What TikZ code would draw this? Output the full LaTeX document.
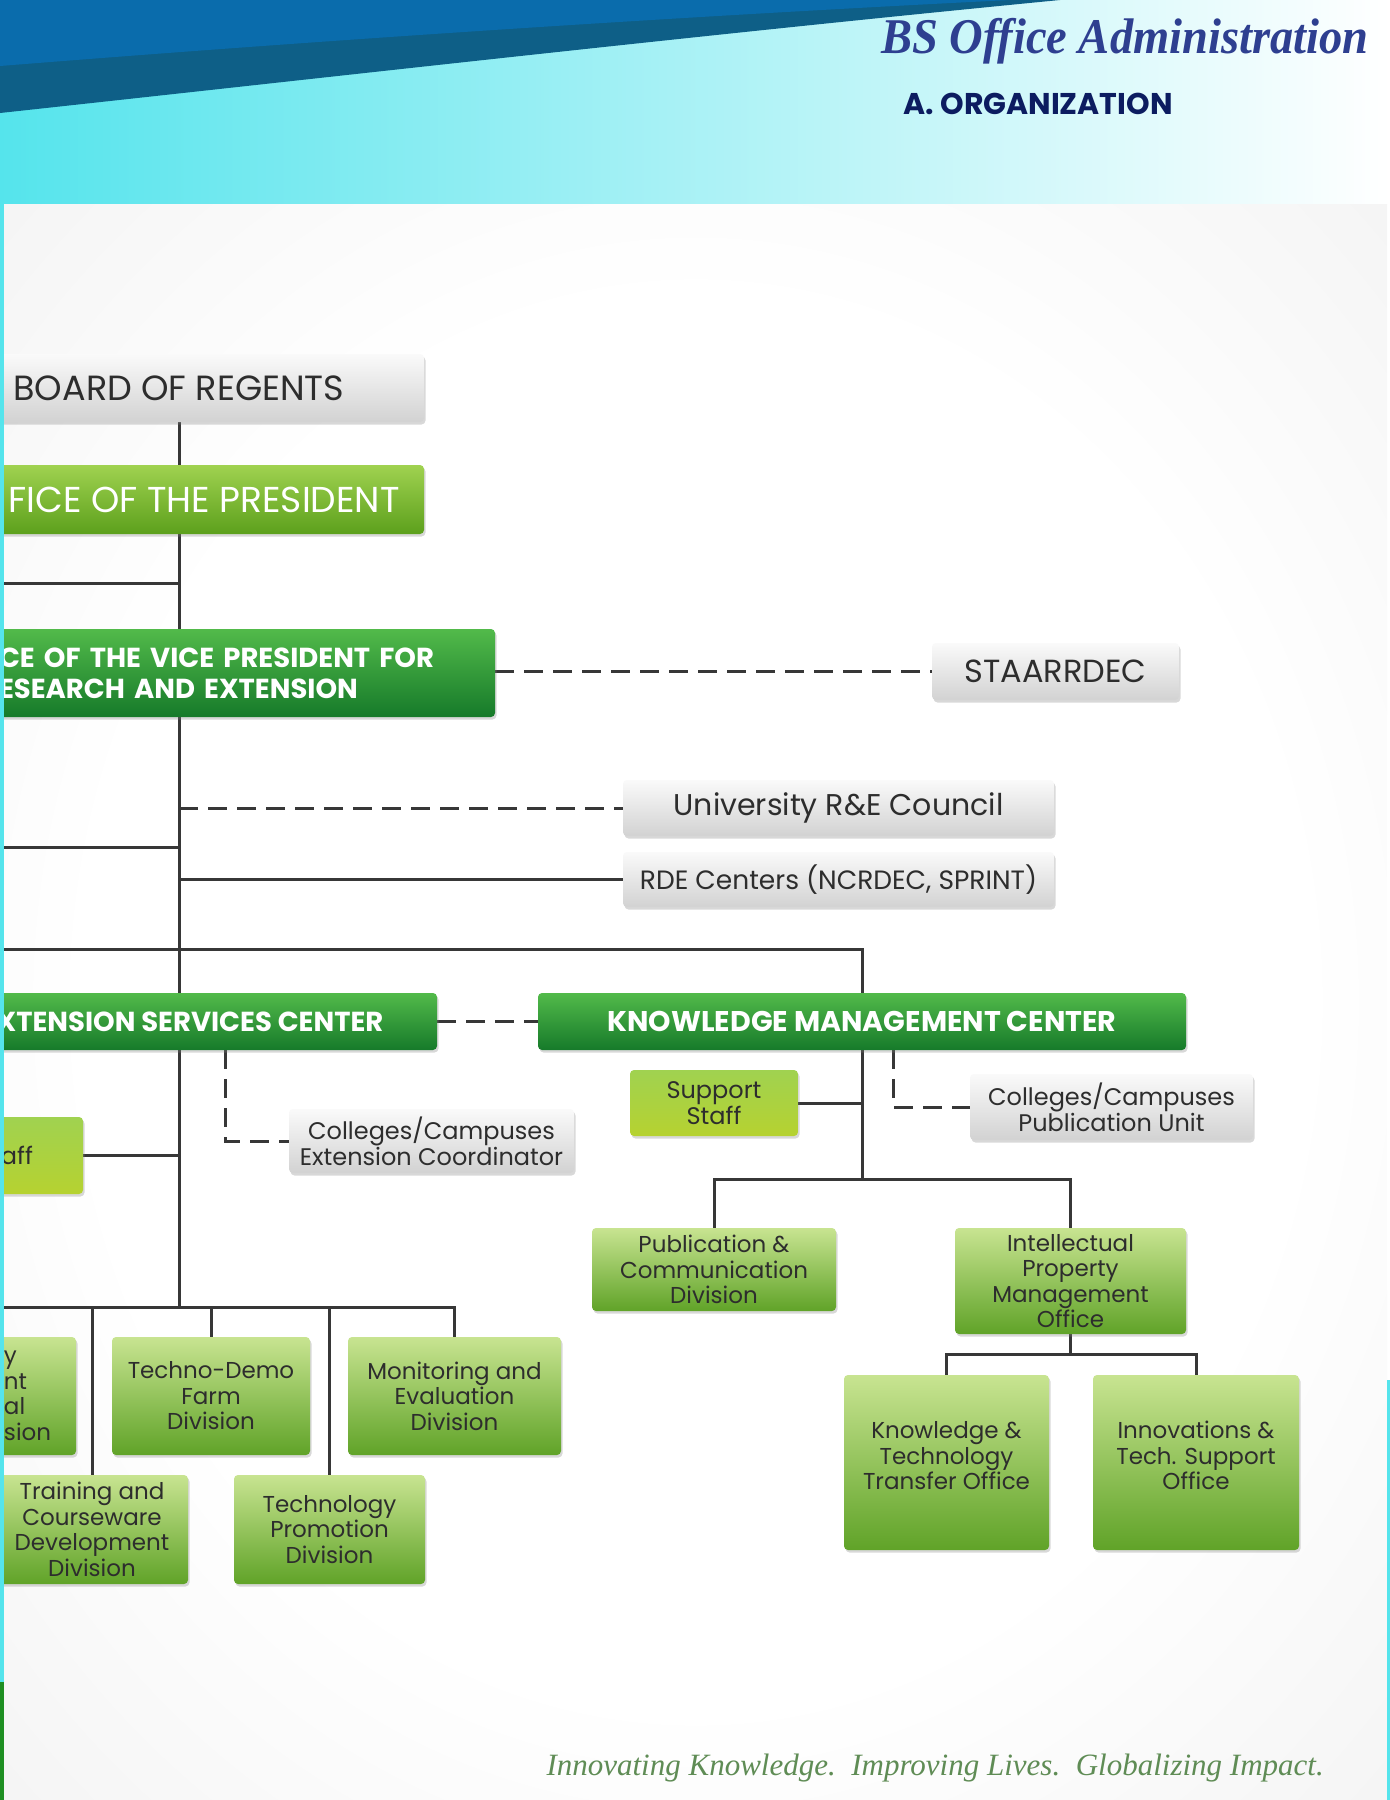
\documentclass[tikz,border=0pt]{standalone}
\usepackage{fontspec}
\usepackage{graphicx}
\setmainfont{Poppins}
\newfontfamily\serifscript{Liberation Serif}
\usetikzlibrary{shadows,backgrounds,calc}
\pgfdeclarelayer{paper}
\pgfsetlayers{paper,background,main}
\definecolor{linegray}{RGB}{55,55,55}
\definecolor{boxtop}{RGB}{250,250,250}
\definecolor{boxbottom}{RGB}{210,210,210}
\definecolor{limetop}{RGB}{200,228,145}
\definecolor{limebottom}{RGB}{96,163,40}
\definecolor{leaftop}{RGB}{160,210,80}
\definecolor{leafbottom}{RGB}{92,160,28}
\definecolor{pinetop}{RGB}{82,186,74}
\definecolor{pinebottom}{RGB}{22,122,42}
\definecolor{staffbottom}{RGB}{182,210,48}
\definecolor{navytitle}{RGB}{46,63,144}
\definecolor{navyhead}{RGB}{12,28,96}
\definecolor{mottogreen}{RGB}{95,140,85}
\definecolor{deepblue}{RGB}{14,95,135}
\definecolor{brightblue}{RGB}{10,108,172}
\definecolor{aqua}{RGB}{85,228,236}
\definecolor{aquamid}{RGB}{165,242,242}
\definecolor{textdark}{RGB}{45,45,45}
\definecolor{edgegreen}{RGB}{30,143,34}
\pgfdeclareradialshading{paperglow}{\pgfpoint{0bp}{0bp}}{color(0bp)=(white); color(22bp)=(white); color(42bp)=(black!6); color(50bp)=(black!7)}

\begin{document}
\begin{tikzpicture}[x=1pt, y=-1pt,
    box/.style={rectangle, rounded corners=4pt, inner sep=0pt, align=center, drop shadow={shadow xshift=1.5pt, shadow yshift=-2.5pt, opacity=0.3}},
    graybox/.style={box, top color=boxtop, bottom color=boxbottom, text=textdark},
    headbox/.style={box, top color=pinetop, bottom color=pinebottom, text=white, font=\fontsize{27.5}{31}\selectfont\bfseries},
    lightbox/.style={box, top color=leaftop, bottom color=leafbottom, text=white, font=\fontsize{36}{40}\selectfont},
    divbox/.style={box, top color=limetop, bottom color=limebottom, text=textdark, font=\fontsize{23}{25.5}\selectfont},
    staffbox/.style={box, top color=leaftop, bottom color=staffbottom, text=textdark, font=\fontsize{24}{26}\selectfont},
    link/.style={draw=linegray, line width=3pt},
    dashlink/.style={link, dash pattern=on 19pt off 10pt}
  ]
    \useasboundingbox (0,0) rectangle (1390,1800);

    % Slide background
    \begin{pgfonlayer}{paper}
      \shade[left color=aqua, middle color=aquamid, right color=white] (0,0) rectangle (1390,204);
      \fill[deepblue] (0,0) -- (1060,0) .. controls (700,35) and (350,75) .. (0,113) -- cycle;
      \fill[brightblue] (0,0) -- (1010,0) .. controls (650,18) and (300,42) .. (0,66) -- cycle;
      \shade[shading=paperglow] (4,204) rectangle (1387,1800);
    \end{pgfonlayer}

    % Headings
    \node[anchor=base east, text=navytitle, font=\serifscript\fontsize{50}{56}\selectfont\bfseries\itshape] (title) at (1372,53) {\scalebox{0.93}[1]{BS Office Administration}};
    \node[anchor=base west, text=navyhead, font=\fontsize{30}{34}\selectfont\bfseries] (section) at (900,114) {A. ORGANIZATION};

    % Top offices
    \node[graybox, minimum width=490, minimum height=68, font=\fontsize{35}{40}\selectfont] (bor) at (179,388) {BOARD OF REGENTS};
    \node[lightbox, minimum width=440, minimum height=69] (op) at (204,499.5) {FICE OF THE PRESIDENT};
    \node[headbox, align=left, text width=440, inner xsep=56, minimum height=88] (vp) at (219,673) {CE OF THE VICE PRESIDENT FOR\\ESEARCH AND EXTENSION};
    \node[graybox, minimum width=247, minimum height=57, font=\fontsize{32}{38}\selectfont] (staar) at (1055.5,671.5) {STAARRDEC};
    \node[graybox, minimum width=431, minimum height=56, font=\fontsize{30}{36}\selectfont] (council) at (838.5,808) {University R\&E Council};
    \node[graybox, minimum width=431, minimum height=55, font=\fontsize{26.5}{30}\selectfont] (rde) at (838.5,879.5) {RDE Centers (NCRDEC, SPRINT)};

    % Centers
    \node[headbox, minimum width=494, minimum height=57] (esc) at (190,1021.5) {XTENSION SERVICES CENTER};
    \node[headbox, minimum width=648, minimum height=57, font=\fontsize{28.5}{31}\selectfont\bfseries] (kmc) at (862,1021.5) {KNOWLEDGE MANAGEMENT CENTER};

    % Extension side
    \node[staffbox, minimum width=132, minimum height=77] (estaff) at (17,1155.5) {aff};
    \node[graybox, minimum width=285, minimum height=64, font=\fontsize{24}{26}\selectfont] (extco) at (431.5,1141) {Colleges/Campuses\\Extension Coordinator};
    \node[divbox, align=left, text width=60, inner xsep=12, minimum height=118] (edgediv) at (34,1396) {y\\nt\\al\\sion};
    \node[divbox, minimum width=198, minimum height=118] (demo) at (211,1396) {Techno-Demo\\Farm\\Division};
    \node[divbox, minimum width=213, minimum height=118] (monit) at (454.5,1396) {Monitoring and\\Evaluation\\Division};
    \node[divbox, minimum width=192, minimum height=109] (train) at (92,1529.5) {Training and\\Courseware\\Development\\Division};
    \node[divbox, minimum width=191, minimum height=109] (promo) at (329.5,1529.5) {Technology\\Promotion\\Division};

    % Knowledge side
    \node[staffbox, minimum width=168, minimum height=66] (kstaff) at (714,1103) {Support\\Staff};
    \node[graybox, minimum width=283, minimum height=66, font=\fontsize{24}{26}\selectfont] (pubunit) at (1111.5,1107) {Colleges/Campuses\\Publication Unit};
    \node[divbox, minimum width=244, minimum height=83] (pubcom) at (714,1269.5) {Publication \&\\Communication\\Division};
    \node[divbox, minimum width=231, minimum height=106] (ipmo) at (1070.5,1281) {Intellectual\\Property\\Management\\Office};
    \node[divbox, minimum width=205, minimum height=175, text depth=14pt] (ktto) at (946.5,1462.5) {Knowledge \&\\Technology\\Transfer Office};
    \node[divbox, minimum width=206, minimum height=175, text depth=14pt] (itso) at (1196,1462.5) {Innovations \&\\Tech. Support\\Office};

    % Motto
    \node[anchor=base west, text=mottogreen, font=\serifscript\fontsize{31}{36}\selectfont\itshape] (motto) at (543,1775) {Innovating Knowledge.\ \ Improving Lives.\ \ Globalizing Impact.};

    % Branch points
    \coordinate (presbar) at (4,583);
    \coordinate (councilbar) at (4,847);
    \coordinate (kmcfeed) at (4,949);
    \coordinate (divbar) at (4,1307);
    \coordinate (kmcbar) at (0,1179);
    \coordinate (ipbar) at (0,1354);

    % Connections
    \begin{scope}[on background layer]
      \draw[link] (bor.south) -- (bor.south |- divbar);
      \draw[link] (presbar) -- (presbar -| bor.south);
      \draw[link] (councilbar) -- (councilbar -| bor.south);
      \draw[link] (kmcfeed) -| (kmc.north);
      \draw[dashlink] (staar.west -| vp.east) -- (staar.west);
      \draw[dashlink] (council.west -| bor.south) -- (council.west);
      \draw[link] (rde.west -| bor.south) -- (rde.west);
      \draw[dashlink] (esc.east) -- (kmc.west);
      \draw[dashlink] ([xshift=35pt]esc.south) |- (extco.west);
      \draw[link] (estaff.east) -- (estaff.east -| bor.south);
      \draw[link] (divbar) -| (monit.north);
      \draw[link] (divbar -| train.north) -- (train.north);
      \draw[link] (divbar -| demo.north) -- (demo.north);
      \draw[link] (divbar -| promo.north) -- (promo.north);
      \draw[link] (kmc.south) -- (kmc.south |- kmcbar);
      \draw[link] (kstaff.east) -- (kstaff.east -| kmc.south);
      \draw[dashlink] ([xshift=31pt]kmc.south) |- (pubunit.west);
      \draw[link] (pubcom.north) |- (kmcbar -| ipmo.north) -- (ipmo.north);
      \draw[link] (ipmo.south) -- (ipmo.south |- ipbar);
      \draw[link] (ktto.north) |- (ipbar -| itso.north) -- (itso.north);
    \end{scope}

    % Slide edges
    \fill[aqua] (0,204) rectangle (4,1682);
    \fill[edgegreen] (0,1682) rectangle (4,1800);
    \fill[aqua] (1387,1380) rectangle (1390,1800);
  \end{tikzpicture}
\end{document}
